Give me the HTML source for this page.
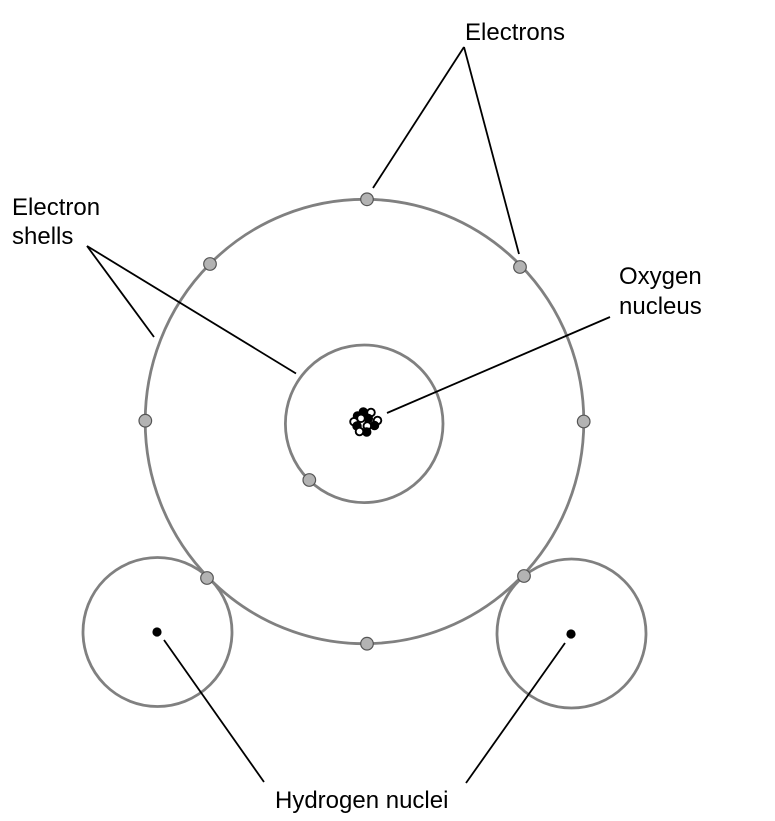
<!DOCTYPE html>
<html>
<head>
<meta charset="utf-8">
<style>
  html, body { margin: 0; padding: 0; background: #ffffff; }
  svg { display: block; }
  text { font-family: "Liberation Sans", Arial, sans-serif; font-size: 24px; fill: #000; }
</style>
</head>
<body>
<svg width="775" height="821" viewBox="0 0 775 821" xmlns="http://www.w3.org/2000/svg">
  <!-- shells -->
  <g fill="none" stroke="#808080" stroke-width="2.8">
    <ellipse cx="364.5" cy="421.5" rx="219.3" ry="222.2"/>
    <circle cx="364.2" cy="423.8" r="78.8"/>
    <circle cx="157.5" cy="632" r="74.5"/>
    <circle cx="571.5" cy="633.5" r="74.5"/>
  </g>

  <!-- leader lines -->
  <g stroke="#000" stroke-width="1.8" fill="none" stroke-linecap="butt">
    <line x1="464" y1="47" x2="373" y2="188"/>
    <line x1="464" y1="47" x2="519" y2="254"/>
    <line x1="87" y1="246" x2="154" y2="337"/>
    <line x1="87" y1="246" x2="296" y2="373.5"/>
    <line x1="610" y1="317" x2="387" y2="413"/>
    <line x1="164" y1="640" x2="264" y2="782"/>
    <line x1="565" y1="643" x2="466" y2="783"/>
  </g>

  <!-- electrons -->
  <g fill="#b3b3b3" stroke="#555" stroke-width="1.2">
    <circle cx="367" cy="199.3" r="6.3"/>
    <circle cx="520" cy="267" r="6.3"/>
    <circle cx="583.7" cy="421.5" r="6.3"/>
    <circle cx="210" cy="264" r="6.3"/>
    <circle cx="145.3" cy="420.7" r="6.3"/>
    <circle cx="207" cy="578" r="6.3"/>
    <circle cx="524" cy="576" r="6.3"/>
    <circle cx="367" cy="643.7" r="6.3"/>
    <circle cx="309.3" cy="480" r="6.3"/>
  </g>

  <!-- hydrogen nuclei -->
  <circle cx="157" cy="632" r="4.6" fill="#000"/>
  <circle cx="571" cy="634" r="4.6" fill="#000"/>

  <!-- oxygen nucleus -->
  <g stroke="#000" stroke-width="1.9">
    <circle cx="357.5" cy="416" r="3.8" fill="#000"/>
    <circle cx="363.3" cy="412" r="3.8" fill="#000"/>
    <circle cx="371" cy="412.5" r="3.8" fill="#fff"/>
    <circle cx="354" cy="421.7" r="3.8" fill="#fff"/>
    <circle cx="368.3" cy="418.5" r="3.8" fill="#000"/>
    <circle cx="361" cy="418.3" r="3.8" fill="#fff"/>
    <circle cx="377.5" cy="420.5" r="3.8" fill="#fff"/>
    <circle cx="357" cy="426" r="3.8" fill="#000"/>
    <circle cx="374.5" cy="425.5" r="3.8" fill="#000"/>
    <circle cx="367.3" cy="426" r="3.8" fill="#fff"/>
    <circle cx="366.7" cy="432" r="3.8" fill="#000"/>
    <circle cx="359.5" cy="431.5" r="3.8" fill="#fff"/>
  </g>

  <!-- labels -->
  <text x="465" y="40">Electrons</text>
  <text x="12" y="215">Electron</text>
  <text x="12" y="244">shells</text>
  <text x="619" y="284">Oxygen</text>
  <text x="619" y="314">nucleus</text>
  <text x="275" y="808">Hydrogen nuclei</text>
</svg>
</body>
</html>
